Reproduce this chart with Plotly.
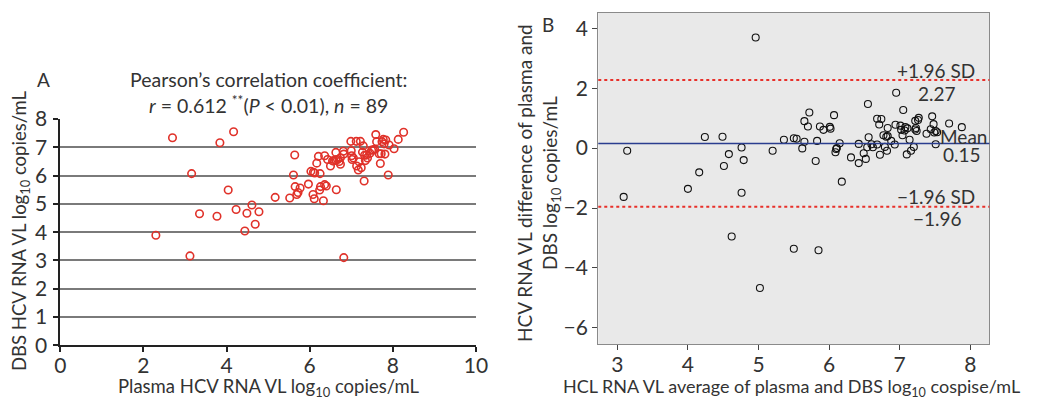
import plotly.graph_objects as go

# Panel A: plasma vs DBS
plasma_x = [2.70, 2.30, 3.12, 3.16, 3.35, 3.77, 3.84, 4.04, 4.17, 4.23, 4.44, 4.49, 4.61, 4.69, 4.78,
            5.17, 5.52, 5.61, 5.64, 5.65, 5.69, 5.72, 5.77, 5.97, 6.03, 6.08, 6.09, 6.11, 6.12, 6.17,
            6.21, 6.25, 6.24, 6.26, 6.33, 6.36, 6.36, 6.40, 6.43, 6.50, 6.55, 6.63, 6.63, 6.64, 6.67,
            6.71, 6.74, 6.74, 6.81, 6.82, 6.82, 6.99, 7.00, 7.01, 7.02, 7.12, 7.13, 7.17, 7.19, 7.22,
            7.24, 7.27, 7.29, 7.31, 7.32, 7.34, 7.37, 7.39, 7.45, 7.49, 7.53, 7.56, 7.59, 7.61, 7.67,
            7.70, 7.72, 7.74, 7.77, 7.79, 7.81, 7.83, 7.89, 7.91, 8.03, 8.13, 8.26, 6.58, 7.05]
dbs_y = [7.34, 3.89, 3.16, 6.07, 4.65, 4.56, 7.16, 5.49, 7.55, 4.80, 4.04, 4.67, 4.96, 4.28, 4.72,
         5.23, 5.21, 6.02, 6.73, 5.61, 5.33, 5.40, 5.56, 5.70, 6.15, 5.33, 6.12, 5.18, 6.09, 6.44,
         6.68, 6.07, 5.49, 5.61, 5.11, 6.70, 5.68, 5.63, 6.57, 6.34, 6.52, 6.82, 6.55, 5.50, 6.57,
         6.50, 6.40, 6.63, 6.86, 3.10, 6.76, 7.21, 6.88, 6.70, 6.57, 7.21, 6.34, 6.20, 6.49, 7.21,
         6.28, 6.83, 7.05, 5.81, 6.72, 6.53, 6.73, 6.62, 6.79, 6.90, 6.90, 6.93, 7.45, 7.20, 6.77,
         6.43, 6.77, 7.20, 7.28, 7.12, 6.76, 7.26, 6.02, 7.08, 6.95, 7.28, 7.53, 6.52, 6.62]

# Panel B: Bland-Altman
avg_x = [4.96, 3.09, 3.14, 4.00, 4.16, 4.24, 4.49, 4.51, 4.58, 4.62, 4.76, 4.76, 4.79, 5.02, 5.20,
         5.36, 5.50, 5.50, 5.54, 5.62, 5.65, 5.65, 5.70, 5.72, 5.81, 5.83, 5.85, 5.87, 5.92, 6.01,
         6.02, 6.07, 6.09, 6.10, 6.11, 6.15, 6.18, 6.31, 6.42, 6.42, 6.49, 6.52, 6.55, 6.56, 6.54,
         6.60, 6.62, 6.68, 6.68, 6.71, 6.72, 6.74, 6.77, 6.79, 6.81, 6.82, 6.83, 6.88, 6.93, 6.94,
         6.95, 7.01, 7.02, 7.04, 7.05, 7.07, 7.08, 7.10, 7.11, 7.14, 7.16, 7.20, 7.22, 7.23, 7.24,
         7.26, 7.27, 7.38, 7.44, 7.46, 7.48, 7.49, 7.51, 7.51, 7.53, 7.70, 7.88, 6.83, 7.22]
diff_y = [3.69, -1.63, -0.09, -1.36, -0.81, 0.37, 0.38, -0.60, -0.20, -2.95, 0.02, -1.49, -0.40, -4.67, -0.09,
          0.28, -3.36, 0.33, 0.31, -0.01, 0.90, 0.21, 0.72, 1.19, -0.43, 0.24, -3.41, 0.72, 0.61, 0.71,
          0.65, 1.10, -0.14, -0.03, 0.00, 0.16, -1.12, -0.31, 0.14, -0.50, -0.17, -0.36, 1.47, 0.36, 0.03,
          0.13, 0.03, 0.12, 0.98, 0.79, -0.22, 0.97, 0.43, 0.04, 0.38, -0.09, 0.67, 0.24, 0.12, 0.78,
          1.85, 0.75, 0.61, 0.43, 1.27, 0.59, 0.70, -0.21, 0.66, 0.28, -0.09, 0.04, 0.91, 0.67, 0.57,
          0.94, 1.01, 0.48, 0.63, 1.06, 0.80, 0.52, 0.57, 0.13, 0.53, 0.82, 0.70, 0.40, 0.62]

mean_diff = 0.15
upper_loa = 2.27
lower_loa = -1.96

FONT = "Lato"
TXT = "#333333"

fig = go.Figure()

fig.add_trace(go.Scatter(
    x=plasma_x, y=dbs_y, mode="markers", xaxis="x", yaxis="y",
    marker=dict(symbol="circle-open", size=7.5, color="#e0322a", line=dict(width=1.6, color="#e0322a")),
    showlegend=False, hoverinfo="skip"))

fig.add_trace(go.Scatter(
    x=avg_x, y=diff_y, mode="markers", xaxis="x2", yaxis="y2",
    marker=dict(symbol="circle-open", size=7, color="#111111", line=dict(width=1.1, color="#111111")),
    showlegend=False, hoverinfo="skip"))

# reference lines in panel B
for val, col, dash, w in [(upper_loa, "#e8302a", "dot", 2), (lower_loa, "#e8302a", "dot", 2),
                          (mean_diff, "#2a3d8f", "solid", 1.5)]:
    fig.add_shape(type="line", xref="x2 domain", yref="y2", x0=0, x1=1, y0=val, y1=val,
                  line=dict(color=col, dash=dash, width=w))

TICKF = dict(size=21, color=TXT, family=FONT)

fig.update_layout(
    template="none",
    width=1057, height=401,
    margin=dict(l=0, r=0, t=0, b=0, pad=0),
    paper_bgcolor="white", plot_bgcolor="white",
    font=dict(family=FONT, color=TXT, size=18),
    xaxis=dict(domain=[0.0570, 0.4503], range=[0, 10], tickvals=[0, 2, 4, 6, 8, 10],
               showgrid=False, zeroline=False, showline=True, linecolor="#222", linewidth=1.5,
               ticks="outside", ticklen=5, tickcolor="#222", tickwidth=1.5, automargin=False,
               tickfont=TICKF, anchor="y", ticklabelstandoff=-4),
    yaxis=dict(domain=[0.1389, 0.7032], range=[0, 8], tickvals=list(range(0, 9)),
               showgrid=True, gridcolor="#7a7a7a", gridwidth=1.5, zeroline=False,
               showline=True, linecolor="#222", linewidth=1.5, automargin=False,
               ticks="outside", ticklen=5, tickcolor="#222", tickwidth=1.5,
               tickfont=TICKF, anchor="x", ticklabelstandoff=2),
    xaxis2=dict(domain=[0.5660, 0.9360], range=[2.73, 8.27], tickvals=[3, 4, 5, 6, 7, 8],
                showgrid=False, zeroline=False, showline=True, mirror=True, linecolor="#8a8a8a",
                linewidth=1.2, ticks="outside", ticklen=5, tickcolor="#444", tickwidth=1.2,
                tickfont=TICKF, anchor="y2", automargin=False, ticklabelstandoff=-4),
    yaxis2=dict(domain=[0.1414, 0.9683], range=[-6.55, 4.52], tickvals=[-6, -4, -2, 0, 2, 4],
                ticktext=["\u22126", "\u22124", "\u22122", "0", "2", "4"],
                showgrid=False, zeroline=False, showline=True, mirror=True, linecolor="#8a8a8a",
                linewidth=1.2, ticks="outside", ticklen=5, tickcolor="#444", tickwidth=1.2,
                tickfont=TICKF, anchor="x2", automargin=False),
)

fig.add_shape(type="rect", xref="x2 domain", yref="y2 domain", x0=0, x1=1, y0=0, y1=1,
              fillcolor="#e9e9e9", line=dict(width=0), layer="below")

def ann(text, x, y, size=18, xanchor="center", yanchor="middle", angle=0):
    fig.add_annotation(text=text, x=x / 1057, y=1 - y / 401, xref="paper", yref="paper",
                       showarrow=False, xanchor=xanchor, yanchor=yanchor, textangle=angle,
                       font=dict(size=size, family=FONT, color=TXT))

ann("A", 43, 79, 19)
ann("Pearson\u2019s correlation coefficient:", 268, 79, 19.5)
ann("<i>r</i> = 0.612 <sup>**</sup>(<i>P</i> < 0.01), <i>n</i> = 89", 268, 104, 19.5)
ann("Plasma HCV RNA VL log<sub>10</sub> copies/mL", 269, 387, 18.5)
ann("DBS HCV RNA VL log<sub>10</sub> copies/mL", 20, 231, 18.5, angle=-90)

ann("B", 548, 24, 19)
ann("HCL RNA VL average of plasma and DBS log<sub>10</sub> cospise/mL", 791, 387, 18)
ann("HCV RNA VL difference of plasma and<br>DBS log<sub>10</sub> copies/mL", 538, 183, 19, angle=-90)

ann("+1.96 SD", 977, 71, 19, xanchor="right")
ann("2.27", 958, 93, 19, xanchor="right")
ann("Mean", 989, 137, 19, xanchor="right")
ann("0.15", 983, 154, 19, xanchor="right")
ann("\u22121.96 SD", 977, 196, 19, xanchor="right")
ann("\u22121.96", 964, 218, 19, xanchor="right")

fig.write_html("out.html")
